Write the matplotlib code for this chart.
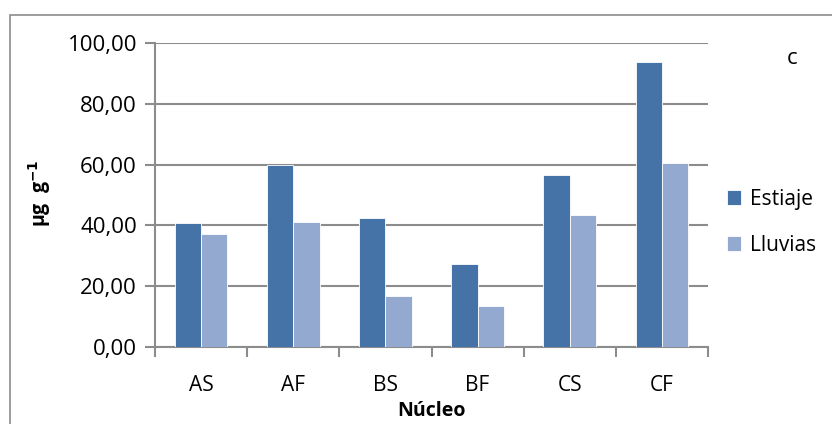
import numpy as np
import matplotlib
matplotlib.use("Agg")
import matplotlib.pyplot as plt
from matplotlib.patches import Rectangle

# data
nucleos  = ["AS", "AF", "BS", "BF", "CS", "CF"]
estiaje  = [40.8, 59.8, 42.5, 27.2, 56.5, 93.6]
lluvias  = [37.2, 41.0, 16.8, 13.4, 43.5, 60.5]
yticks   = [0, 20, 40, 60, 80, 100]

plt.rcParams["font.family"] = ["Open Sans", "DejaVu Sans"]

W, H = 832, 424
fig = plt.figure(figsize=(W / 100, H / 100), dpi=100, facecolor="white")
ax = fig.add_axes([155 / W, 1 - 347 / H, (708 - 155) / W, (347 - 43) / H])

# outer chart border (Excel chart area)
fig.patches.append(Rectangle((10 / W, -0.05), 1.0, 1 - 15 / H + 0.05,
                             transform=fig.transFigure, fill=False,
                             edgecolor="#8c8c8c", linewidth=1.2))

x = np.arange(len(nucleos))
bw = 1 / 3.5
ax.bar(x - bw / 2, estiaje, bw, color="#4572A7", edgecolor="white", linewidth=0.6,
       label="Estiaje", zorder=3)
ax.bar(x + bw / 2, lluvias, bw, color="#93A9CF", edgecolor="white", linewidth=0.6,
       label="Lluvias", zorder=3)

ax.set_xlim(-0.5, len(nucleos) - 0.5)
ax.set_ylim(0, 100)
ax.set_yticks(yticks)
ax.set_yticklabels([f"{v:.2f}".replace(".", ",") for v in yticks], fontsize=16)
ax.yaxis.grid(True, color="#8c8c8c", linewidth=1.5, zorder=0)

# category ticks at boundaries, labels centered
ax.set_xticks(np.arange(-0.5, len(nucleos)), minor=False)
ax.set_xticklabels([])
ax.set_xticks(x, minor=True)
ax.set_xticklabels(nucleos, minor=True, fontsize=15)
ax.tick_params(axis="x", which="minor", length=0, pad=20)
ax.tick_params(axis="x", which="major", length=7, color="#8c8c8c", width=1.5)
ax.tick_params(axis="y", length=7, color="#8c8c8c", width=1.5, pad=6)

for s in ["top", "right"]:
    ax.spines[s].set_visible(False)
for s in ["left", "bottom"]:
    ax.spines[s].set_color("#8c8c8c")
    ax.spines[s].set_linewidth(1.5)

ax.set_xlabel("Núcleo", fontsize=14, fontweight="bold", labelpad=4)
fig.text(40 / W, 1 - 193 / H, r"µg  g$^{\mathbf{-1}}$", rotation=90, fontsize=14,
         fontweight="bold", ha="center", va="center")
fig.text(792 / W, 1 - 58 / H, "c", fontsize=16, ha="center", va="center")

fig.legend(loc="center left", bbox_to_anchor=(708 / W, 1 - 222 / H), frameon=False,
           fontsize=15, handlelength=0.7, handleheight=0.7, handletextpad=0.4,
           labelspacing=1.2)

fig.savefig("out.png", dpi=100, facecolor="white")
